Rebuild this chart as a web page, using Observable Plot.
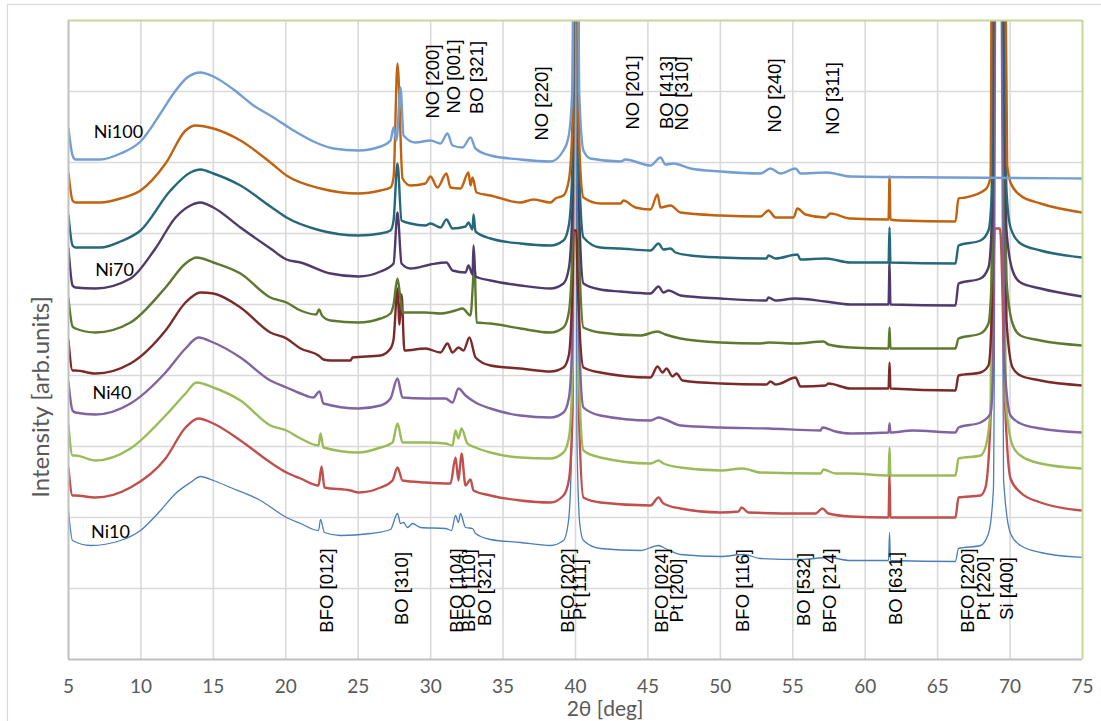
<!DOCTYPE html>
<html><head><meta charset="utf-8">
<script src="https://cdn.jsdelivr.net/npm/d3@7"></script>
<script src="https://cdn.jsdelivr.net/npm/@observablehq/plot@0.6"></script>
<style>body{margin:0;background:#fff}</style>
</head><body><div id="chart"></div>
<script>
// ---- data: [2θ (deg), intensity (arb. units)] ----
const ni100 = [[5.0,531],[5.28,504],[5.48,500],[7.21,500],[8.59,506],[9.97,518],[11.35,546],[12.25,566],[13.2,582],[14.11,587],[15.0,583],[16.39,570],[17.77,554],[19.15,542],[20.53,529],[21.91,518],[23.3,511],[25.02,509],[26.54,513],[27.23,519],[27.44,532],[27.64,519],[27.92,572],[28.13,524],[28.95,517],[29.99,519],[30.68,516],[31.16,526],[31.51,514],[32.2,512],[32.75,522],[33.1,511],[34.13,504],[36.2,500],[38.27,498],[39.17,509],[39.55,525],[39.8,580],[39.93,900],[40.07,900],[40.25,570],[40.55,509],[41.03,501],[43.11,498],[43.45,500],[45.18,494],[45.87,502],[46.21,495],[46.76,496],[47.94,491],[50.01,488],[52.77,486],[53.46,491],[54.15,486],[55.19,491],[55.53,486],[57.33,487],[58.98,483],[66.0,482],[75.0,481]];
const ni90 = [[5.0,486],[5.28,459],[5.48,457],[7.21,457],[8.59,461],[9.97,469],[11.7,496],[13.08,529],[13.77,534],[15.0,531],[16.87,519],[18.94,497],[20.05,484],[22.4,471],[25.02,466],[26.54,469],[27.23,472],[27.44,482],[27.71,596],[28.06,481],[28.61,474],[29.64,476],[29.99,483],[30.47,472],[31.09,486],[31.37,472],[32.06,471],[32.61,487],[32.75,474],[32.89,482],[33.17,467],[34.13,464],[36.2,457],[37.1,460],[38.27,457],[38.62,461],[39.17,464],[39.55,480],[39.8,540],[39.9,900],[40.05,900],[40.2,540],[40.55,462],[41.72,456],[43.11,456],[43.31,459],[44.14,452],[45.18,450],[45.66,465],[45.87,452],[46.56,454],[47.25,447],[50.01,444],[52.77,443],[53.32,449],[53.81,442],[55.05,442],[55.32,451],[55.88,445],[57.26,442],[57.6,446],[58.98,441],[61.61,440],[61.68,483],[61.74,440],[62.43,439],[66.23,438],[66.44,461],[66.92,462],[68.3,470],[68.65,482],[68.8,900],[69.55,900],[69.8,495],[70.03,477],[70.72,464],[72.1,456],[75.0,447]];
const ni80 = [[5.0,444],[5.28,414],[5.48,412],[7.21,412],[8.59,418],[9.97,429],[12.04,469],[13.42,487],[14.11,490],[15.0,486],[16.87,474],[18.94,453],[20.05,442],[22.4,429],[25.02,424],[26.54,426],[27.23,429],[27.44,439],[27.71,496],[27.99,439],[28.61,436],[29.64,434],[29.99,436],[30.68,432],[31.09,440],[31.51,431],[32.41,433],[32.61,437],[32.89,430],[32.96,445],[33.1,428],[34.13,421],[36.2,416],[38.27,414],[39.17,419],[39.55,435],[39.8,500],[39.92,900],[40.08,900],[40.25,490],[40.55,422],[41.72,412],[43.11,411],[45.18,409],[45.73,416],[46.07,410],[46.56,411],[46.9,407],[47.94,404],[50.01,402],[53.18,401],[53.32,404],[53.81,401],[55.32,405],[55.53,400],[57.26,401],[58.98,397],[61.61,397],[61.68,432],[61.74,397],[66.23,396],[66.44,414],[67.96,419],[68.51,429],[68.75,470],[68.9,900],[69.4,900],[69.75,470],[70.03,432],[70.72,416],[72.1,409],[75.0,402]];
const ni70 = [[5.0,411],[5.28,374],[5.48,372],[6.86,371],[9.28,381],[11.0,411],[12.39,442],[13.42,454],[14.11,457],[15.0,452],[16.87,432],[18.94,411],[20.05,400],[21.02,397],[23.09,386],[25.02,383],[26.54,388],[27.44,396],[27.71,447],[27.99,396],[28.61,391],[29.99,395],[31.09,397],[31.51,389],[32.41,387],[32.61,394],[32.89,385],[32.96,414],[33.1,383],[34.13,379],[36.2,374],[38.27,371],[39.17,376],[39.55,392],[39.8,460],[39.92,900],[40.08,900],[40.25,450],[40.55,376],[41.72,370],[43.11,368],[45.18,366],[45.73,373],[46.07,367],[46.42,369],[47.25,364],[50.01,361],[53.18,359],[53.32,362],[53.81,359],[55.19,361],[57.26,358],[58.98,355],[61.61,355],[61.68,397],[61.74,355],[66.23,354],[66.44,376],[67.96,381],[68.51,392],[68.75,440],[68.9,900],[69.4,900],[69.75,430],[70.17,389],[70.72,377],[72.1,371],[75.0,363]];
const ni60 = [[5.0,361],[5.28,333],[5.48,331],[6.86,327],[9.28,337],[11.7,372],[13.08,396],[13.84,402],[15.0,397],[16.87,386],[18.94,362],[20.05,357],[21.02,349],[22.1,345],[22.3,350],[22.5,344],[23.09,339],[25.02,337],[26.54,341],[27.23,346],[27.44,355],[27.71,381],[27.92,360],[28.06,347],[29.64,347],[30.68,346],[31.72,349],[32.2,351],[32.75,344],[33.03,394],[33.17,337],[34.13,336],[36.2,331],[38.27,327],[39.17,332],[39.55,348],[39.8,420],[39.92,900],[40.08,900],[40.25,410],[40.55,332],[41.72,327],[44.49,324],[45.66,328],[46.21,325],[47.25,321],[50.01,317],[52.77,316],[53.32,317],[55.19,316],[57.12,318],[57.46,315],[58.98,312],[61.61,311],[61.68,332],[61.74,311],[66.23,311],[66.44,321],[67.96,326],[68.51,336],[68.75,390],[68.9,900],[69.4,900],[69.75,380],[70.17,336],[70.72,324],[72.1,319],[75.0,314]];
const ni50 = [[5.0,319],[5.28,289],[5.48,289],[6.86,286],[9.28,296],[11.7,329],[13.08,357],[14.11,367],[15.0,366],[16.87,352],[18.94,327],[20.05,321],[21.02,311],[22.26,304],[22.6,300],[23.09,299],[24.47,299],[24.61,302],[26.54,304],[27.23,311],[27.44,320],[27.71,371],[27.85,335],[27.99,365],[28.19,309],[29.64,311],[30.68,307],[31.16,316],[31.51,307],[31.92,312],[32.27,309],[32.68,322],[33.1,302],[34.13,294],[36.2,291],[38.27,288],[39.17,292],[39.55,305],[39.8,380],[39.88,429],[40.05,429],[40.15,380],[40.55,292],[41.72,287],[45.18,282],[45.66,293],[46.01,287],[46.28,291],[46.7,283],[46.97,286],[47.39,279],[50.01,276],[53.18,275],[53.46,278],[53.81,275],[54.15,276],[55.19,282],[55.53,273],[57.26,274],[57.46,276],[58.98,271],[61.61,271],[61.68,297],[61.74,271],[66.23,269],[66.44,284],[67.96,287],[68.51,294],[68.75,350],[68.9,900],[69.4,900],[69.75,340],[70.17,292],[70.72,284],[72.1,279],[75.0,274]];
const ni40 = [[5.0,277],[5.28,249],[5.48,247],[6.86,245],[9.28,256],[11.7,287],[13.08,311],[13.97,322],[15.0,317],[16.87,302],[18.94,279],[20.05,272],[21.02,266],[21.9,262],[22.33,268],[22.6,256],[25.02,251],[26.54,254],[27.23,261],[27.71,281],[28.06,262],[29.64,261],[31.03,261],[31.51,257],[31.92,271],[32.41,264],[33.1,257],[34.13,251],[36.2,244],[38.27,242],[39.17,247],[39.55,262],[39.8,330],[39.92,900],[40.08,900],[40.25,320],[40.55,252],[41.72,244],[45.18,239],[45.73,242],[46.21,240],[47.25,234],[50.01,232],[53.32,231],[56.91,229],[57.05,232],[57.95,228],[58.98,226],[61.61,227],[61.68,236],[61.74,227],[63.26,229],[66.23,227],[66.44,232],[67.96,237],[68.65,246],[68.85,300],[68.95,900],[69.4,900],[69.6,300],[70.03,244],[70.72,236],[72.1,231],[75.0,227]];
const ni30 = [[5.0,234],[5.28,204],[5.48,204],[6.86,199],[9.28,211],[11.7,244],[13.08,266],[13.84,277],[15.0,272],[16.87,259],[18.94,234],[20.05,229],[21.02,221],[22.26,214],[22.4,226],[22.6,212],[25.02,207],[26.54,212],[27.37,217],[27.71,236],[28.06,217],[29.64,217],[31.03,216],[31.51,214],[31.72,229],[31.92,221],[32.13,231],[32.54,216],[33.1,212],[34.13,207],[36.2,202],[38.27,201],[39.17,207],[39.55,222],[39.8,290],[39.92,900],[40.08,900],[40.25,280],[40.55,209],[41.72,202],[45.18,196],[45.73,199],[46.07,196],[47.25,192],[50.01,189],[51.53,191],[52.77,187],[56.91,186],[57.12,190],[57.95,186],[58.98,186],[61.61,184],[61.68,212],[61.74,184],[66.23,184],[66.44,201],[67.96,204],[68.3,212],[68.65,250],[68.85,900],[69.45,900],[69.7,260],[70.17,214],[70.72,204],[72.1,196],[75.0,191]];
const ni20 = [[5.0,191],[5.28,164],[5.48,164],[6.86,162],[9.28,172],[11.7,201],[13.08,232],[13.97,241],[15.0,236],[16.87,219],[18.94,197],[20.05,187],[21.02,181],[22.26,174],[22.47,193],[22.67,172],[24.47,169],[25.02,167],[26.54,172],[27.37,179],[27.71,192],[28.06,179],[29.64,177],[31.37,176],[31.72,202],[31.92,179],[32.13,206],[32.41,174],[32.75,180],[32.96,169],[34.13,164],[36.2,159],[38.27,157],[39.17,164],[39.55,180],[39.8,250],[39.92,900],[40.08,900],[40.25,240],[40.55,162],[41.72,157],[45.18,154],[45.73,162],[46.07,156],[47.25,151],[50.01,147],[51.25,148],[51.46,152],[51.94,147],[55.53,146],[56.57,146],[57.05,151],[57.46,146],[58.98,143],[61.61,142],[61.68,184],[61.74,142],[66.23,142],[66.44,162],[67.96,164],[68.3,172],[68.7,260],[68.95,431],[69.3,431],[69.7,240],[70.03,181],[70.72,167],[72.1,157],[75.0,149]];
const ni10 = [[5.0,149],[5.28,119],[6.52,114],[8.59,119],[9.97,129],[11.35,149],[12.39,166],[13.42,177],[14.11,183],[15.0,179],[16.18,172],[18.25,159],[20.05,142],[21.02,136],[22.26,129],[22.4,140],[22.67,127],[23.78,124],[25.85,126],[27.23,130],[27.71,146],[27.92,136],[28.13,137],[28.4,132],[28.75,136],[29.3,132],[31.03,131],[31.44,129],[31.72,144],[31.92,137],[32.06,146],[32.41,132],[32.89,131],[33.1,126],[34.13,120],[36.2,117],[38.27,114],[39.17,119],[39.52,139],[39.75,220],[39.85,900],[39.98,900],[40.1,220],[40.3,135],[40.55,119],[41.72,111],[44.49,109],[45.73,114],[46.21,111],[47.25,105],[50.01,103],[51.6,105],[52.77,101],[55.53,100],[57.46,102],[58.98,99],[61.61,99],[61.68,127],[61.74,99],[66.23,98],[66.44,111],[67.96,114],[68.51,126],[68.85,170],[69.1,900],[69.3,900],[69.55,180],[70.03,126],[70.72,114],[72.1,107],[75.0,102]];

// draw order: first drawn at the back
const seriesData   = [ni10, ni20, ni30, ni40, ni50, ni60, ni70, ni80, ni90, ni100];
const seriesColors = ["#4a7ebb","#c0504d","#9bbb59","#8064a2","#7b2a2a","#5f7830","#4e3b6b","#25687a","#c0620f","#739ed2"];
const seriesWidths = [1.3, 2.4, 2.4, 2.4, 2.4, 2.4, 2.4, 2.4, 2.4, 2.4];

const xTicks = [5,10,15,20,25,30,35,40,45,50,55,60,65,70,75];
const xGrid  = [10,15,20,25,30,35,40,45,50,55,60,65,70];
const yGrid  = [71,142,213,284,355,426,497,568];

const topLabelText = ["NO [200]","NO [001]","BO [321]","NO [220]","NO [201]","BO [413]","NO [310]","NO [240]","NO [311]"];
const topLabelX    = [30.2, 31.65, 33.23, 37.72, 44.0, 46.35, 47.39, 53.81, 57.8];
const topLabelY    = [578, 583, 582, 556, 567, 567, 566, 564, 561];

const botLabelText = ["BFO [012]","BO [310]","BFO [104]","BFO [110]","BO [321]","BFO [202]","Pt [111]","BFO [024]","Pt [200]","BFO [116]","BO [532]","BFO [214]","BO [631]","BFO [220]","Pt [220]","Si [400]"];
const botLabelX    = [22.85, 28.06, 31.82, 32.66, 33.76, 39.49, 40.34, 45.98, 47.0, 51.6, 55.77, 57.6, 62.16, 67.13, 68.2, 69.79];
const botLabelY    = [69, 71, 69, 69, 70, 69, 70, 69, 69, 69, 70, 69, 71, 69, 71, 71];

const sampleText = ["Ni100","Ni70","Ni40","Ni10"];
const sampleX    = [8.45, 8.18, 8.0, 7.9];
const sampleY    = [527, 389, 266, 127];

const topLabels = topLabelText.map((t,i) => ({text:t, x:topLabelX[i], y:topLabelY[i]}));
const botLabels = botLabelText.map((t,i) => ({text:t, x:botLabelX[i], y:botLabelY[i]}));
const samples   = sampleText.map((t,i) => ({text:t, x:sampleX[i], y:sampleY[i]}));

const gridStyle = {stroke:"#d9d9d9", strokeOpacity:1, strokeWidth:1.6};
const annFont = "'Liberation Sans', Arial, sans-serif";

const chart = Plot.plot({
  width: 1101, height: 721,
  marginLeft: 68, marginRight: 19, marginTop: 20, marginBottom: 62,
  x: {domain: [5, 75], axis: null},
  y: {domain: [0, 639], axis: null},
  style: {fontFamily: "Lato, sans-serif", background: "#fff"},
  marks: [
    Plot.gridX(xGrid, gridStyle),
    Plot.gridY(yGrid, gridStyle),
    Plot.axisX(xTicks, {tickSize: 0, tickPadding: 20, fontSize: 19, color: "#595959", label: null, fontFamily: "Lato, sans-serif"}),
    ...seriesData.map((d, i) => Plot.line(d, {stroke: seriesColors[i], strokeWidth: seriesWidths[i], curve: "monotone-x", clip: true})),
    Plot.ruleX([5], {stroke: "#bfbfbf", strokeWidth: 2}),
    Plot.ruleY([0], {stroke: "#bfbfbf", strokeWidth: 2}),
    Plot.ruleX([75], {stroke: "#c4d79b", strokeWidth: 2}),
    Plot.ruleY([639], {stroke: "#c4d79b", strokeWidth: 2}),
    Plot.text(topLabels, {x: "x", y: "y", text: "text", rotate: -90, fontSize: 18.5, fontFamily: annFont, fill: "#000"}),
    Plot.text(botLabels, {x: "x", y: "y", text: "text", rotate: -90, fontSize: 18.5, fontFamily: annFont, fill: "#000"}),
    Plot.text(samples, {x: "x", y: "y", text: "text", fontSize: 18, fontFamily: "Lato, sans-serif", fill: "#000"})
  ]
});

const svg = d3.select(chart);
svg.append("rect").attr("x", 7.5).attr("y", 4.5).attr("width", 1100).attr("height", 720)
  .attr("fill", "none").attr("stroke", "#d9d9d9").attr("stroke-width", 1.2);
svg.append("text").attr("x", 605).attr("y", 716).attr("text-anchor", "middle")
  .attr("font-family", "Lato, sans-serif").attr("font-size", 21).attr("fill", "#595959").text("2θ [deg]");
svg.append("text").attr("transform", "translate(41,397) rotate(-90)").attr("text-anchor", "middle")
  .attr("dy", "0.35em").attr("font-family", "Lato, sans-serif").attr("font-size", 24).attr("fill", "#595959")
  .text("Intensity [arb.units]");

document.getElementById("chart").appendChild(chart);
</script>
</body></html>
